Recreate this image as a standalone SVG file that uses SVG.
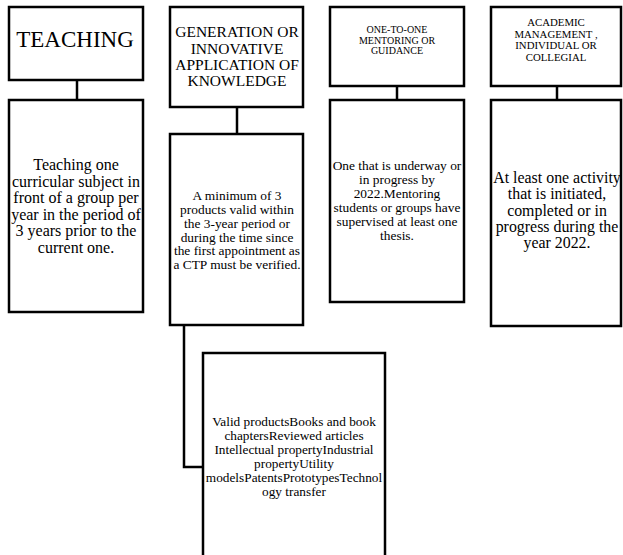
<svg xmlns="http://www.w3.org/2000/svg" width="623" height="555" viewBox="0 0 623 555">
<style>
.box{fill:#fff;stroke:#000;stroke-width:2.5}
.con{fill:none;stroke:#000;stroke-width:2.5}
text{font-family:"Liberation Serif","Times New Roman",serif;fill:#000;text-anchor:middle}
</style>
<rect width="623" height="555" fill="#fff"/>
<g id="connectors">
<path class="con" d="M77 80V100"/>
<path class="con" d="M237 107V134"/>
<path class="con" d="M397 86V100"/>
<path class="con" d="M557 86V100"/>
<path class="con" d="M184 325V467H203"/>
</g>
<g id="teaching">
<rect class="box" x="9" y="7" width="134" height="73"/>
<text x="75" y="47" font-size="23">TEACHING</text>
</g>
<g id="generation">
<rect class="box" x="170" y="7" width="133" height="100"/>
<text font-size="15.5"><tspan x="237" y="37">GENERATION OR</tspan><tspan x="237" y="53.5">INNOVATIVE</tspan><tspan x="237" y="70">APPLICATION OF</tspan><tspan x="237" y="86">KNOWLEDGE</tspan></text>
</g>
<g id="mentoring">
<rect class="box" x="330" y="7" width="134" height="79"/>
<text font-size="10"><tspan x="397" y="33">ONE-TO-ONE</tspan><tspan x="397" y="43.5">MENTORING OR</tspan><tspan x="397" y="54">GUIDANCE</tspan></text>
</g>
<g id="academic">
<rect class="box" x="491" y="7" width="130" height="79"/>
<text font-size="10.8"><tspan x="556" y="26">ACADEMIC</tspan><tspan x="556" y="37.5">MANAGEMENT ,</tspan><tspan x="556" y="49">INDIVIDUAL OR</tspan><tspan x="556" y="60.5">COLLEGIAL</tspan></text>
</g>
<g id="teaching-body">
<rect class="box" x="9" y="100" width="134" height="212"/>
<text font-size="16"><tspan x="76" y="170">Teaching one</tspan><tspan x="76" y="186.5">curricular subject in</tspan><tspan x="76" y="203">front of a group per</tspan><tspan x="76" y="219.5">year in the period of</tspan><tspan x="76" y="236">3 years prior to the</tspan><tspan x="76" y="252.5">current one.</tspan></text>
</g>
<g id="generation-body">
<rect class="box" x="170" y="134" width="133" height="191"/>
<text font-size="13.4"><tspan x="237" y="200">A minimum of 3</tspan><tspan x="237" y="214">products valid within</tspan><tspan x="237" y="228">the 3-year period or</tspan><tspan x="237" y="241.5">during the time since</tspan><tspan x="237" y="255">the first appointment as</tspan><tspan x="237" y="268.5">a CTP must be verified.</tspan></text>
</g>
<g id="mentoring-body">
<rect class="box" x="330" y="100" width="134" height="202"/>
<text font-size="13.4"><tspan x="397" y="170">One that is underway or</tspan><tspan x="397" y="184">in progress by</tspan><tspan x="397" y="198">2022.Mentoring</tspan><tspan x="397" y="212">students or groups have</tspan><tspan x="397" y="226">supervised at least one</tspan><tspan x="397" y="240">thesis.</tspan></text>
</g>
<g id="academic-body">
<rect class="box" x="491" y="100" width="130" height="226"/>
<text font-size="15.9"><tspan x="557" y="183">At least one activity</tspan><tspan x="557" y="199">that is initiated,</tspan><tspan x="557" y="215.5">completed or in</tspan><tspan x="557" y="231.5">progress during the</tspan><tspan x="557" y="247.5">year 2022.</tspan></text>
</g>
<g id="products">
<rect class="box" x="203" y="353" width="182" height="215"/>
<text font-size="13.3"><tspan x="294" y="426">Valid productsBooks and book</tspan><tspan x="294" y="440">chaptersReviewed articles</tspan><tspan x="294" y="454">Intellectual propertyIndustrial</tspan><tspan x="294" y="468">propertyUtility</tspan><tspan x="294" y="482">modelsPatentsPrototypesTechnol</tspan><tspan x="294" y="496">ogy transfer</tspan></text>
</g>
</svg>
